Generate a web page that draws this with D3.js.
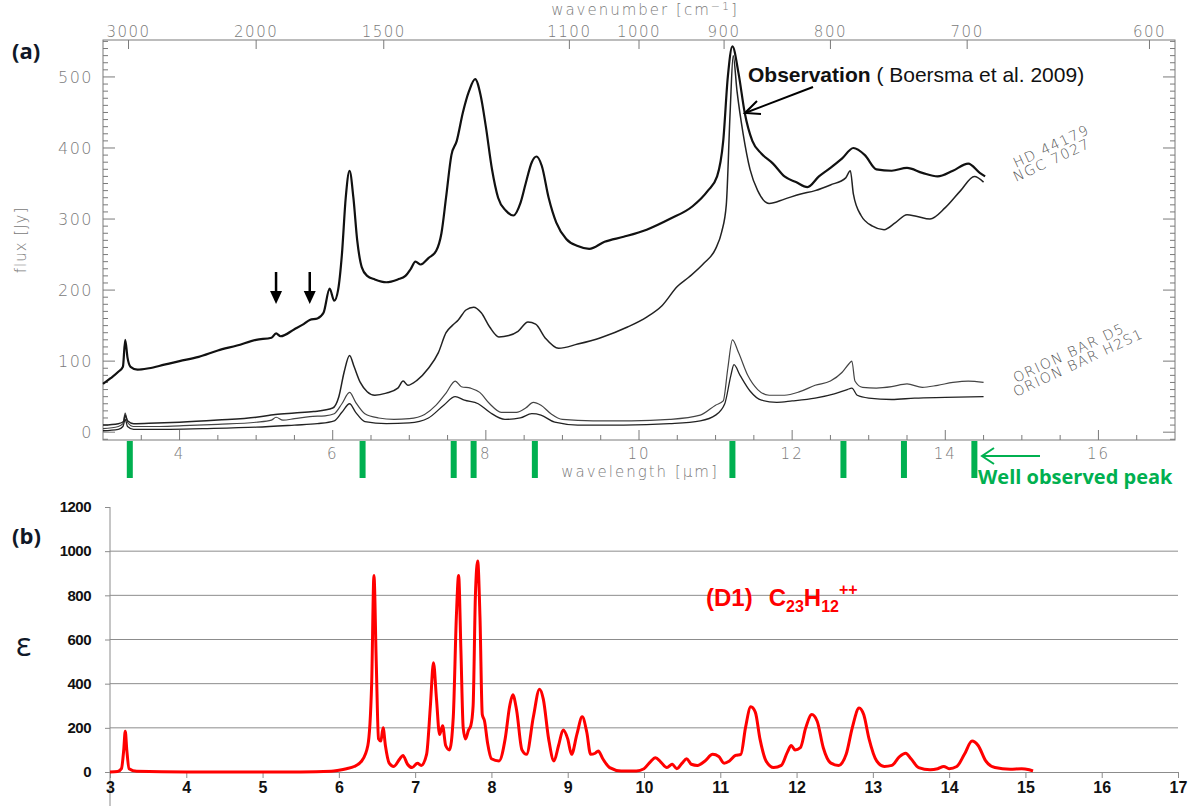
<!DOCTYPE html>
<html>
<head>
<meta charset="utf-8">
<script src="https://cdn.jsdelivr.net/npm/d3@7/dist/d3.min.js"></script>
<style>
  html, body { margin: 0; padding: 0; background: #fff; }
  svg { display: block; }
</style>
</head>
<body>
<svg id="chart" width="1189" height="807"></svg>
<script>
// ---------------- DATA ----------------
// Panel (a): observed spectra, [wavelength (µm), flux (Jy)]
const hd44179 = [[3.0,68],[3.1,76],[3.2,85],[3.26,92],[3.29,130],[3.32,105],[3.36,92],[3.45,88],[3.6,90],[3.8,95],[4.0,100],[4.25,106],[4.5,115],[4.75,122],[5.0,130],[5.2,133],[5.26,139],[5.32,135],[5.5,145],[5.62,152],[5.7,158],[5.8,160],[5.88,168],[5.96,202],[6.02,185],[6.07,200],[6.12,250],[6.17,330],[6.22,368],[6.27,330],[6.32,270],[6.38,232],[6.45,220],[6.55,215],[6.7,211],[6.85,215],[6.95,220],[7.02,230],[7.08,240],[7.15,236],[7.25,245],[7.35,255],[7.42,280],[7.48,330],[7.55,390],[7.62,410],[7.7,450],[7.78,480],[7.86,497],[7.93,475],[8.0,430],[8.08,370],[8.16,330],[8.26,312],[8.36,305],[8.45,322],[8.52,350],[8.6,380],[8.66,388],[8.73,375],[8.82,330],[8.92,295],[9.05,272],[9.2,262],[9.35,258],[9.55,268],[9.8,275],[10.1,285],[10.4,300],[10.7,318],[10.9,340],[11.02,360],[11.1,410],[11.16,500],[11.22,543],[11.3,505],[11.38,450],[11.48,410],[11.6,392],[11.75,378],[11.9,360],[12.05,352],[12.2,345],[12.35,360],[12.5,372],[12.65,385],[12.8,400],[12.95,390],[13.1,370],[13.3,368],[13.5,372],[13.7,365],[13.9,360],[14.1,368],[14.3,378],[14.45,365],[14.52,360]];

const ngc7027 = [[3.0,10],[3.2,12],[3.27,15],[3.29,24],[3.32,16],[3.4,12],[3.7,13],[4.0,14],[4.5,17],[5.0,21],[5.25,25],[5.5,27],[5.75,29],[6.0,34],[6.08,50],[6.15,85],[6.22,108],[6.28,92],[6.36,70],[6.45,57],[6.55,52],[6.7,55],[6.85,62],[6.92,72],[6.98,66],[7.1,73],[7.25,90],[7.38,112],[7.48,140],[7.56,150],[7.64,158],[7.74,172],[7.84,176],[7.94,168],[8.05,148],[8.17,134],[8.3,136],[8.42,142],[8.55,155],[8.65,152],[8.78,132],[8.95,118],[9.2,124],[9.5,133],[9.85,148],[10.1,162],[10.3,178],[10.5,205],[10.65,218],[10.85,238],[11.0,258],[11.08,282],[11.14,320],[11.19,450],[11.23,530],[11.28,480],[11.36,420],[11.45,370],[11.55,340],[11.7,322],[11.9,328],[12.1,335],[12.3,340],[12.5,348],[12.7,358],[12.76,368],[12.8,335],[12.9,305],[13.05,290],[13.2,285],[13.35,295],[13.5,306],[13.62,304],[13.8,300],[14.0,316],[14.2,340],[14.38,360],[14.5,352]];

const orionD5 = [[3.0,5],[3.2,8],[3.26,12],[3.29,27],[3.32,14],[3.4,8],[3.7,8],[4.0,9],[4.5,11],[5.0,14],[5.2,17],[5.26,21],[5.35,17],[5.5,19],[5.7,22],[5.9,23],[6.02,26],[6.12,40],[6.22,56],[6.3,42],[6.42,26],[6.6,20],[6.8,18],[7.0,19],[7.2,25],[7.35,38],[7.48,55],[7.6,72],[7.68,64],[7.8,62],[7.92,56],[8.05,40],[8.2,28],[8.4,28],[8.52,34],[8.62,42],[8.72,38],[8.85,26],[9.0,18],[9.4,16],[9.9,16],[10.4,18],[10.8,24],[11.0,38],[11.1,44],[11.16,90],[11.22,130],[11.3,112],[11.42,80],[11.55,60],[11.7,52],[11.9,52],[12.1,57],[12.3,66],[12.5,72],[12.65,84],[12.74,96],[12.78,100],[12.82,72],[12.92,63],[13.1,62],[13.3,64],[13.5,68],[13.7,63],[13.9,66],[14.1,70],[14.3,72],[14.5,70]];

const orionH2S1 = [[3.0,2],[3.2,4],[3.26,8],[3.29,18],[3.32,8],[3.4,4],[3.8,4],[4.3,5],[5.0,7],[5.5,10],[5.8,12],[6.02,16],[6.12,28],[6.22,40],[6.3,28],[6.42,15],[6.7,12],[7.0,13],[7.25,20],[7.45,38],[7.6,50],[7.72,45],[7.9,40],[8.05,28],[8.25,18],[8.45,20],[8.6,26],[8.72,24],[8.9,14],[9.2,10],[9.8,10],[10.4,12],[10.8,16],[11.0,24],[11.12,40],[11.2,80],[11.24,95],[11.32,80],[11.45,58],[11.6,45],[11.8,42],[12.0,44],[12.3,48],[12.55,54],[12.72,60],[12.78,62],[12.85,52],[13.0,48],[13.3,46],[13.6,48],[14.0,49],[14.5,50]];

// Green markers: well observed peaks (µm)
const wellObserved = [3.35, 6.39, 7.58, 7.84, 8.64, 11.22, 12.67, 13.46, 14.38];

// Axes tick labels
const wavenumberTicks = [3000, 2000, 1500, 1100, 1000, 900, 800, 700, 600];
const wavelengthLabelsA = [4, 6, 8, 10, 12, 14, 16];
const fluxLabels = [0, 100, 200, 300, 400, 500];

// Panel (b): computed spectrum of C23H12++, [wavelength (µm), epsilon]
const d1Spectrum = [[3.0,0],[3.1,2],[3.15,15],[3.18,100],[3.2,185],[3.22,100],[3.25,15],[3.35,3],[4.0,0],[5.0,0],[5.5,0],[5.9,3],[6.0,8],[6.1,15],[6.2,25],[6.3,50],[6.38,120],[6.43,400],[6.46,890],[6.49,500],[6.52,150],[6.55,140],[6.58,200],[6.61,120],[6.66,40],[6.72,25],[6.8,60],[6.84,75],[6.9,35],[6.96,20],[7.03,40],[7.08,30],[7.15,80],[7.2,300],[7.24,495],[7.28,330],[7.32,170],[7.36,210],[7.4,120],[7.45,100],[7.5,250],[7.54,700],[7.57,890],[7.6,550],[7.63,200],[7.66,150],[7.7,190],[7.73,210],[7.76,300],[7.79,800],[7.82,955],[7.85,700],[7.88,260],[7.91,230],[7.95,130],[8.0,60],[8.1,50],[8.18,150],[8.24,300],[8.28,350],[8.33,280],[8.4,100],[8.46,80],[8.55,250],[8.63,375],[8.68,330],[8.75,150],[8.82,50],[8.88,120],[8.94,190],[9.0,150],[9.05,80],[9.12,170],[9.19,250],[9.25,180],[9.3,80],[9.36,85],[9.4,95],[9.46,60],[9.55,20],[9.7,5],[9.9,5],[10.0,15],[10.08,45],[10.15,65],[10.22,45],[10.3,20],[10.37,35],[10.43,15],[10.5,40],[10.56,60],[10.62,35],[10.7,30],[10.8,50],[10.9,80],[10.98,70],[11.05,40],[11.12,50],[11.2,75],[11.27,80],[11.33,200],[11.4,295],[11.46,270],[11.52,150],[11.6,50],[11.7,20],[11.8,30],[11.88,90],[11.93,120],[11.98,100],[12.05,110],[12.12,200],[12.2,260],[12.27,230],[12.35,110],[12.45,40],[12.55,30],[12.65,80],[12.73,200],[12.82,290],[12.88,260],[12.95,150],[13.05,50],[13.15,25],[13.25,30],[13.35,70],[13.43,85],[13.5,60],[13.6,20],[13.75,10],[13.85,15],[13.93,25],[14.0,15],[14.1,25],[14.2,80],[14.3,140],[14.38,120],[14.48,50],[14.6,20],[14.8,12],[14.95,15],[15.05,10],[15.1,5]];
const wavelengthTicksB = [3,4,5,6,7,8,9,10,11,12,13,14,15,16,17];
const epsilonTicks = [0, 200, 400, 600, 800, 1000, 1200];

// ---------------- DRAWING ----------------
const svg = d3.select("#chart");
const grey = "#7a7a7a";
const hershey = "'DejaVu Sans', sans-serif";

// ===== Panel (a) =====
const A = {left:103, right:1175, top:40, bottom:440};
const xA = d3.scaleLinear().domain([3,17]).range([A.left, A.right]);
const yA = d3.scaleLinear().domain([-11,552]).range([A.bottom, A.top]);

const gA = svg.append("g");
// minor/major ticks left & right
d3.range(-10, 551, 10).forEach(v => {
  const major = v % 100 === 0;
  const len = major ? 12 : 5;
  const y = yA(v);
  gA.append("line").attr("x1",A.left).attr("x2",A.left+len).attr("y1",y).attr("y2",y)
    .attr("stroke",grey).attr("stroke-width",1);
  gA.append("line").attr("x1",A.right).attr("x2",A.right-len).attr("y1",y).attr("y2",y)
    .attr("stroke",grey).attr("stroke-width",1);
});
// bottom ticks
d3.range(3.5, 16.6, 0.5).forEach(v => {
  const major = Math.abs(v % 2) < 1e-6;
  const len = major ? 10 : 5;
  gA.append("line").attr("x1",xA(v)).attr("x2",xA(v)).attr("y1",A.bottom).attr("y2",A.bottom-len)
    .attr("stroke",grey).attr("stroke-width",1);
});
// top ticks (wavenumber)
wavenumberTicks.forEach(wn => {
  const x = xA(10000/wn);
  gA.append("line").attr("x1",x).attr("x2",x).attr("y1",A.top).attr("y2",A.top+9)
    .attr("stroke",grey).attr("stroke-width",1);
  gA.append("text").attr("x",x).attr("y",A.top-3).attr("text-anchor","middle")
    .attr("font-family",hershey).attr("font-size",15).attr("font-weight",300)
    .attr("letter-spacing","1.5px").attr("fill",grey).text(wn);
});
// frame
gA.append("rect").attr("x",A.left).attr("y",A.top).attr("width",A.right-A.left).attr("height",A.bottom-A.top)
  .attr("fill","none").attr("stroke",grey).attr("stroke-width",1);

// left labels
fluxLabels.forEach(v => {
  gA.append("text").attr("x",A.left-10).attr("y",yA(v)+6).attr("text-anchor","end")
    .attr("font-family",hershey).attr("font-size",16).attr("font-weight",300)
    .attr("letter-spacing","1.5px").attr("fill",grey).text(v);
});
// bottom labels
wavelengthLabelsA.forEach(v => {
  gA.append("text").attr("x",xA(v)).attr("y",A.bottom+19).attr("text-anchor","middle")
    .attr("font-family",hershey).attr("font-size",15).attr("font-weight",300)
    .attr("letter-spacing","2px").attr("fill",grey).text(v);
});
// axis titles
gA.append("text").attr("x",640).attr("y",477).attr("text-anchor","middle")
  .attr("font-family",hershey).attr("font-size",15).attr("font-weight",300)
  .attr("letter-spacing","2px").attr("fill",grey).text("wavelength [µm]");
gA.append("text").attr("x",645).attr("y",15).attr("text-anchor","middle")
  .attr("font-family",hershey).attr("font-size",15).attr("font-weight",300)
  .attr("letter-spacing","2px").attr("fill",grey)
  .html('wavenumber [cm<tspan dy="-5" font-size="11">−1</tspan><tspan dy="5">]</tspan>');
gA.append("text").attr("transform","translate(26,240) rotate(-90)").attr("text-anchor","middle")
  .attr("font-family",hershey).attr("font-size",15).attr("font-weight",300)
  .attr("letter-spacing","1px").attr("fill",grey).text("flux [Jy]");

// spectra
const lineA = d3.line().x(d => xA(d[0])).y(d => yA(d[1])).curve(d3.curveMonotoneX);
gA.append("path").datum(orionH2S1).attr("d",lineA).attr("fill","none").attr("stroke","#222").attr("stroke-width",1.3);
gA.append("path").datum(orionD5).attr("d",lineA).attr("fill","none").attr("stroke","#444").attr("stroke-width",1.2);
gA.append("path").datum(ngc7027).attr("d",lineA).attr("fill","none").attr("stroke","#222").attr("stroke-width",1.5);
gA.append("path").datum(hd44179).attr("d",lineA).attr("fill","none").attr("stroke","#111").attr("stroke-width",2.2);

// rotated source labels
function rotLabel(txt, x, y) {
  gA.append("text").attr("transform",`translate(${x},${y}) rotate(-25)`)
    .attr("font-family",hershey).attr("font-size",14).attr("font-weight",300)
    .attr("letter-spacing","1.5px").attr("fill","#555").text(txt);
}
rotLabel("HD 44179", 1016, 168);
rotLabel("NGC 7027", 1016, 182);
rotLabel("ORION BAR D5", 1016, 383);
rotLabel("ORION BAR H2S1", 1016, 397);

// down arrows (annotation)
[5.26, 5.7].forEach(v => {
  const x = xA(v);
  gA.append("line").attr("x1",x).attr("x2",x).attr("y1",272).attr("y2",293)
    .attr("stroke","#000").attr("stroke-width",2.5);
  gA.append("path").attr("d",`M${x-6},291 L${x+6},291 L${x},304 Z`).attr("fill","#000");
});

// Observation annotation
const obs = gA.append("text").attr("x",748).attr("y",82)
  .attr("font-family","'Liberation Sans', Arial, sans-serif").attr("font-size",21).attr("fill","#111");
obs.append("tspan").attr("font-weight","bold").text("Observation");
obs.append("tspan").text(" ( Boersma et al. 2009)");
gA.append("line").attr("x1",813).attr("y1",87).attr("x2",745).attr("y2",113)
  .attr("stroke","#000").attr("stroke-width",2);
gA.append("path").attr("d","M757,101 L745,113 L761,114").attr("fill","none")
  .attr("stroke","#000").attr("stroke-width",2);

// green markers
wellObserved.forEach(v => {
  gA.append("rect").attr("x",xA(v)-3).attr("y",441).attr("width",6).attr("height",37).attr("fill","#00b050");
});
gA.append("line").attr("x1",982).attr("y1",456).attr("x2",1040).attr("y2",456)
  .attr("stroke","#00b050").attr("stroke-width",2);
gA.append("path").attr("d","M994,448 L982,456 L994,464").attr("fill","none")
  .attr("stroke","#00b050").attr("stroke-width",2);
gA.append("text").attr("x",978).attr("y",484)
  .attr("font-family","'Open Sans', 'Liberation Sans', sans-serif").attr("font-weight","bold")
  .attr("font-size",20).attr("fill","#00b050").text("Well observed peak");

// panel tag
svg.append("text").attr("x",12).attr("y",59).attr("font-family","'Open Sans', 'Liberation Sans', sans-serif")
  .attr("font-weight","bold").attr("font-size",22).attr("fill","#101828").text("(a)");

// ===== Panel (b) =====
const B = {left:110, right:1178, top:507, bottom:772};
const xB = d3.scaleLinear().domain([3,17]).range([B.left, B.right]);
const yB = d3.scaleLinear().domain([0,1200]).range([B.bottom, B.top]);
const gB = svg.append("g");

// gridlines
epsilonTicks.filter(v => v > 0 && v < 1200).forEach(v => {
  gB.append("line").attr("x1",B.left).attr("x2",B.right).attr("y1",yB(v)).attr("y2",yB(v))
    .attr("stroke","#8c8c8c").attr("stroke-width",1);
});
// y axis
const yAxisB = d3.axisLeft(yB).tickValues(epsilonTicks).tickFormat(d3.format("d")).tickSize(5).tickPadding(14);
const yg = gB.append("g").attr("transform",`translate(${B.left},0)`).call(yAxisB);
yg.select(".domain").remove();
yg.selectAll(".tick line").attr("stroke","#8c8c8c");
yg.selectAll(".tick text").attr("font-family","'Liberation Sans Narrow', 'Liberation Sans', sans-serif")
  .attr("font-weight","bold").attr("font-size",15).attr("fill","#111").attr("letter-spacing","-0.5px");
gB.append("line").attr("x1",B.left).attr("x2",B.left).attr("y1",B.top).attr("y2",806)
  .attr("stroke","#8c8c8c").attr("stroke-width",1);
// x axis
const xAxisB = d3.axisBottom(xB).tickValues(wavelengthTicksB).tickFormat(d3.format("d")).tickSize(6).tickPadding(4).tickSizeOuter(0);
const xg = gB.append("g").attr("transform",`translate(0,${B.bottom})`).call(xAxisB);
xg.select(".domain").attr("stroke","#8c8c8c");
xg.selectAll(".tick line").attr("stroke","#8c8c8c");
xg.selectAll(".tick text").attr("font-family","'Liberation Sans Narrow', 'Liberation Sans', sans-serif")
  .attr("font-weight","bold").attr("font-size",16).attr("fill","#111");

// red spectrum
const lineB = d3.line().x(d => xB(d[0])).y(d => yB(d[1])).curve(d3.curveMonotoneX);
gB.append("path").datum(d1Spectrum).attr("d",lineB).attr("fill","none")
  .attr("stroke","#ff0000").attr("stroke-width",3).attr("stroke-linejoin","round");

// label
const lab = gB.append("text").attr("x",706).attr("y",606)
  .attr("font-family","'Liberation Sans', Arial, sans-serif").attr("font-weight","bold")
  .attr("font-size",24).attr("fill","#ff0000");
lab.append("tspan").text("(D1)");
lab.append("tspan").attr("dx",16).text("C");
lab.append("tspan").attr("font-size",16).attr("dy",6).text("23");
lab.append("tspan").attr("dy",-6).text("H");
lab.append("tspan").attr("font-size",16).attr("dy",6).text("12");
lab.append("tspan").attr("font-size",16).attr("dy",-17).text("++");

svg.append("text").attr("x",12).attr("y",544).attr("font-family","'Open Sans', 'Liberation Sans', sans-serif")
  .attr("font-weight","bold").attr("font-size",22).attr("fill","#101828").text("(b)");
svg.append("text").attr("x",16).attr("y",656).attr("font-family","'Open Sans', 'Liberation Sans', sans-serif")
  .attr("font-size",32).attr("fill","#101828").text("ε");
</script>
</body>
</html>
